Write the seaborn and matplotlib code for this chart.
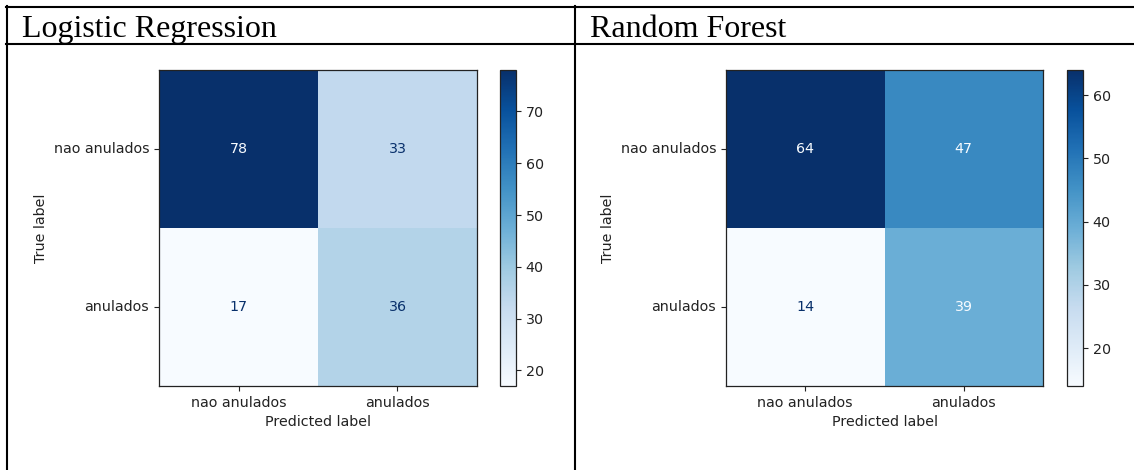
import matplotlib
matplotlib.use("Agg")
import matplotlib.pyplot as plt
from matplotlib.lines import Line2D
from matplotlib.ticker import MultipleLocator
import numpy as np
import pandas as pd
import seaborn as sns

# Class names and confusion matrices (rows: true label, columns: predicted label)
class_labels = ["nao anulados", "anulados"]
logreg_counts = [[78, 33],
                 [17, 36]]
forest_counts = [[64, 47],
                 [14, 39]]
model_names = ["Logistic Regression", "Random Forest"]

W, H = 1134, 470
fig = plt.figure(figsize=(W / 100, H / 100), dpi=100)
fig.patch.set_facecolor("white")


def px_rect(x0, y0, x1, y1):
    """Axes rectangle in figure fractions from pixel edges (origin top-left)."""
    return [x0 / W, 1 - y1 / H, (x1 - x0) / W, (y1 - y0) / H]


def px_x(x):
    return x / W


def px_y(y):
    return 1 - y / H


panels = [
    (model_names[0], logreg_counts, px_rect(159, 70, 477, 386), px_rect(500, 70, 516, 386), 22),
    (model_names[1], forest_counts, px_rect(726, 70, 1043, 386), px_rect(1067, 70, 1083, 386), 590),
]

cmap = plt.get_cmap("Blues")
fs = 10.3

for title, counts, ax_rect, cb_rect, title_x in panels:
    df = pd.DataFrame(counts, index=class_labels, columns=class_labels)
    ax = fig.add_axes(ax_rect)
    cax = fig.add_axes(cb_rect)
    sns.heatmap(df, ax=ax, cbar_ax=cax, cmap=cmap, annot=True, fmt="d",
                annot_kws={"fontsize": fs}, linewidths=0,
                cbar_kws={"ticks": MultipleLocator(10)})

    # Value text: dark on light cells, light on dark cells
    vals = np.asarray(counts)
    thresh = (vals.max() + vals.min()) / 2.0
    for txt in ax.texts:
        v = float(txt.get_text())
        txt.set_color(cmap(0.0) if v >= thresh else cmap(1.0))

    for side in ["top", "bottom", "left", "right"]:
        ax.spines[side].set_visible(True)
        ax.spines[side].set_linewidth(0.9)
        ax.spines[side].set_color("#222222")

    ax.tick_params(axis="both", which="major", length=3.5, width=0.8,
                   labelsize=fs, left=True, bottom=True, colors="#222222")
    ax.set_xticklabels(class_labels, rotation=0)
    ax.set_yticklabels(class_labels, rotation=0, va="center")
    ax.set_xlabel("Predicted label", fontsize=fs, color="#222222")
    ax.set_ylabel("True label", fontsize=fs, color="#222222")

    cb = ax.collections[0].colorbar
    cb.outline.set_linewidth(0.9)
    cb.outline.set_edgecolor("#222222")
    cax.tick_params(labelsize=fs, length=3.5, width=0.8, colors="#222222")

    fig.text(px_x(title_x), px_y(37), title, fontsize=23,
             family="Liberation Serif", ha="left", va="baseline", color="black")

# Table borders around the two panels
lw = 1.5
fig.add_artist(Line2D([px_x(6), 1.0], [px_y(7), px_y(7)], color="black", lw=lw))
fig.add_artist(Line2D([px_x(6), 1.0], [px_y(44), px_y(44)], color="black", lw=lw))
fig.add_artist(Line2D([px_x(7), px_x(7)], [px_y(6), 0.0], color="black", lw=lw))
fig.add_artist(Line2D([px_x(575), px_x(575)], [px_y(6), 0.0], color="black", lw=lw))

fig.savefig("out.png", dpi=100, facecolor="white")
